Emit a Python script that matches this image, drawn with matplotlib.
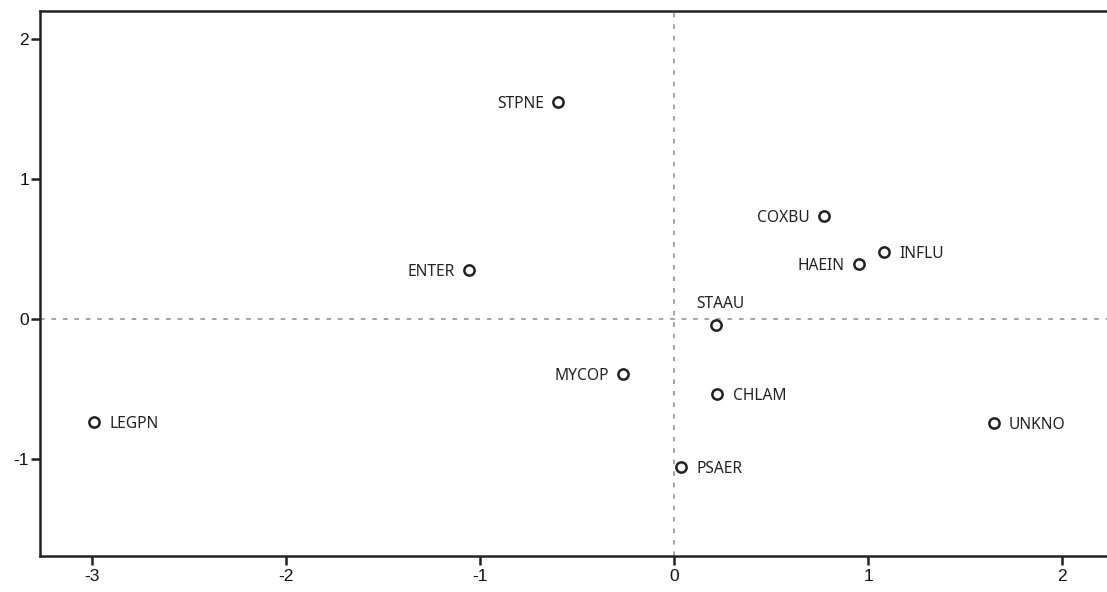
import matplotlib.pyplot as plt

# object points (dimension 1, dimension 2)
labels = ["STPNE", "COXBU", "HAEIN", "INFLU", "ENTER", "STAAU",
          "MYCOP", "CHLAM", "PSAER", "LEGPN", "UNKNO"]
dim1 = [-0.60, 0.77, 0.95, 1.08, -1.06, 0.215, -0.265, 0.222, 0.033, -2.99, 1.645]
dim2 = [1.545, 0.737, 0.392, 0.476, 0.350, -0.043, -0.392, -0.535, -1.053, -0.737, -0.742]

xticks = [-3, -2, -1, 0, 1, 2]
yticks = [-1, 0, 1, 2]

# where each label sits relative to its point
place = {"left": ((-10, 0), "right", "center_baseline"),
         "right": ((11, 0), "left", "center_baseline"),
         "above": ((-14, 12), "left", "baseline")}
side = {"STPNE": "left", "COXBU": "left", "HAEIN": "left", "ENTER": "left",
        "MYCOP": "left", "STAAU": "above"}

ink = "#222222"
fig = plt.figure(figsize=(11.07, 5.92), dpi=100)
ax = fig.add_axes([40 / 1107, 1 - 556.3 / 592, 1 - 40 / 1107, (556.3 - 11) / 592])

ax.axhline(0, color="#8a8a8a", lw=1.1, ls=(0, (3, 4.5)), zorder=1)
ax.axvline(0, color="#8a8a8a", lw=1.1, ls=(0, (3, 4.5)), zorder=1)

ax.plot(dim1, dim2, "o", ms=7.4, mfc="white", mec=ink, mew=1.8, zorder=3)

for name, x, y in zip(labels, dim1, dim2):
    off, ha, va = place[side.get(name, "right")]
    ax.annotate(name, (x, y), xytext=off, textcoords="offset points",
                ha=ha, va=va, fontsize=11.2, family="Noto Sans", color=ink)

ax.set_xlim(-3.27, 2.23)
ax.set_ylim(-1.693, 2.197)
ax.set_xticks(xticks)
ax.set_yticks(yticks)
ax.set_xticklabels([str(t) for t in xticks], family="Liberation Sans", fontsize=12.5)
ax.set_yticklabels([str(t) for t in yticks], family="Liberation Sans", fontsize=12.5)
ax.tick_params(length=6.5, width=1.8, color=ink, labelcolor="#111111")
ax.tick_params(axis="x", pad=3)
ax.tick_params(axis="y", pad=1.5)

ax.spines["right"].set_visible(False)
for s in ["left", "top", "bottom"]:
    ax.spines[s].set_linewidth(1.8)
    ax.spines[s].set_color(ink)

fig.savefig("out.png", dpi=100)
